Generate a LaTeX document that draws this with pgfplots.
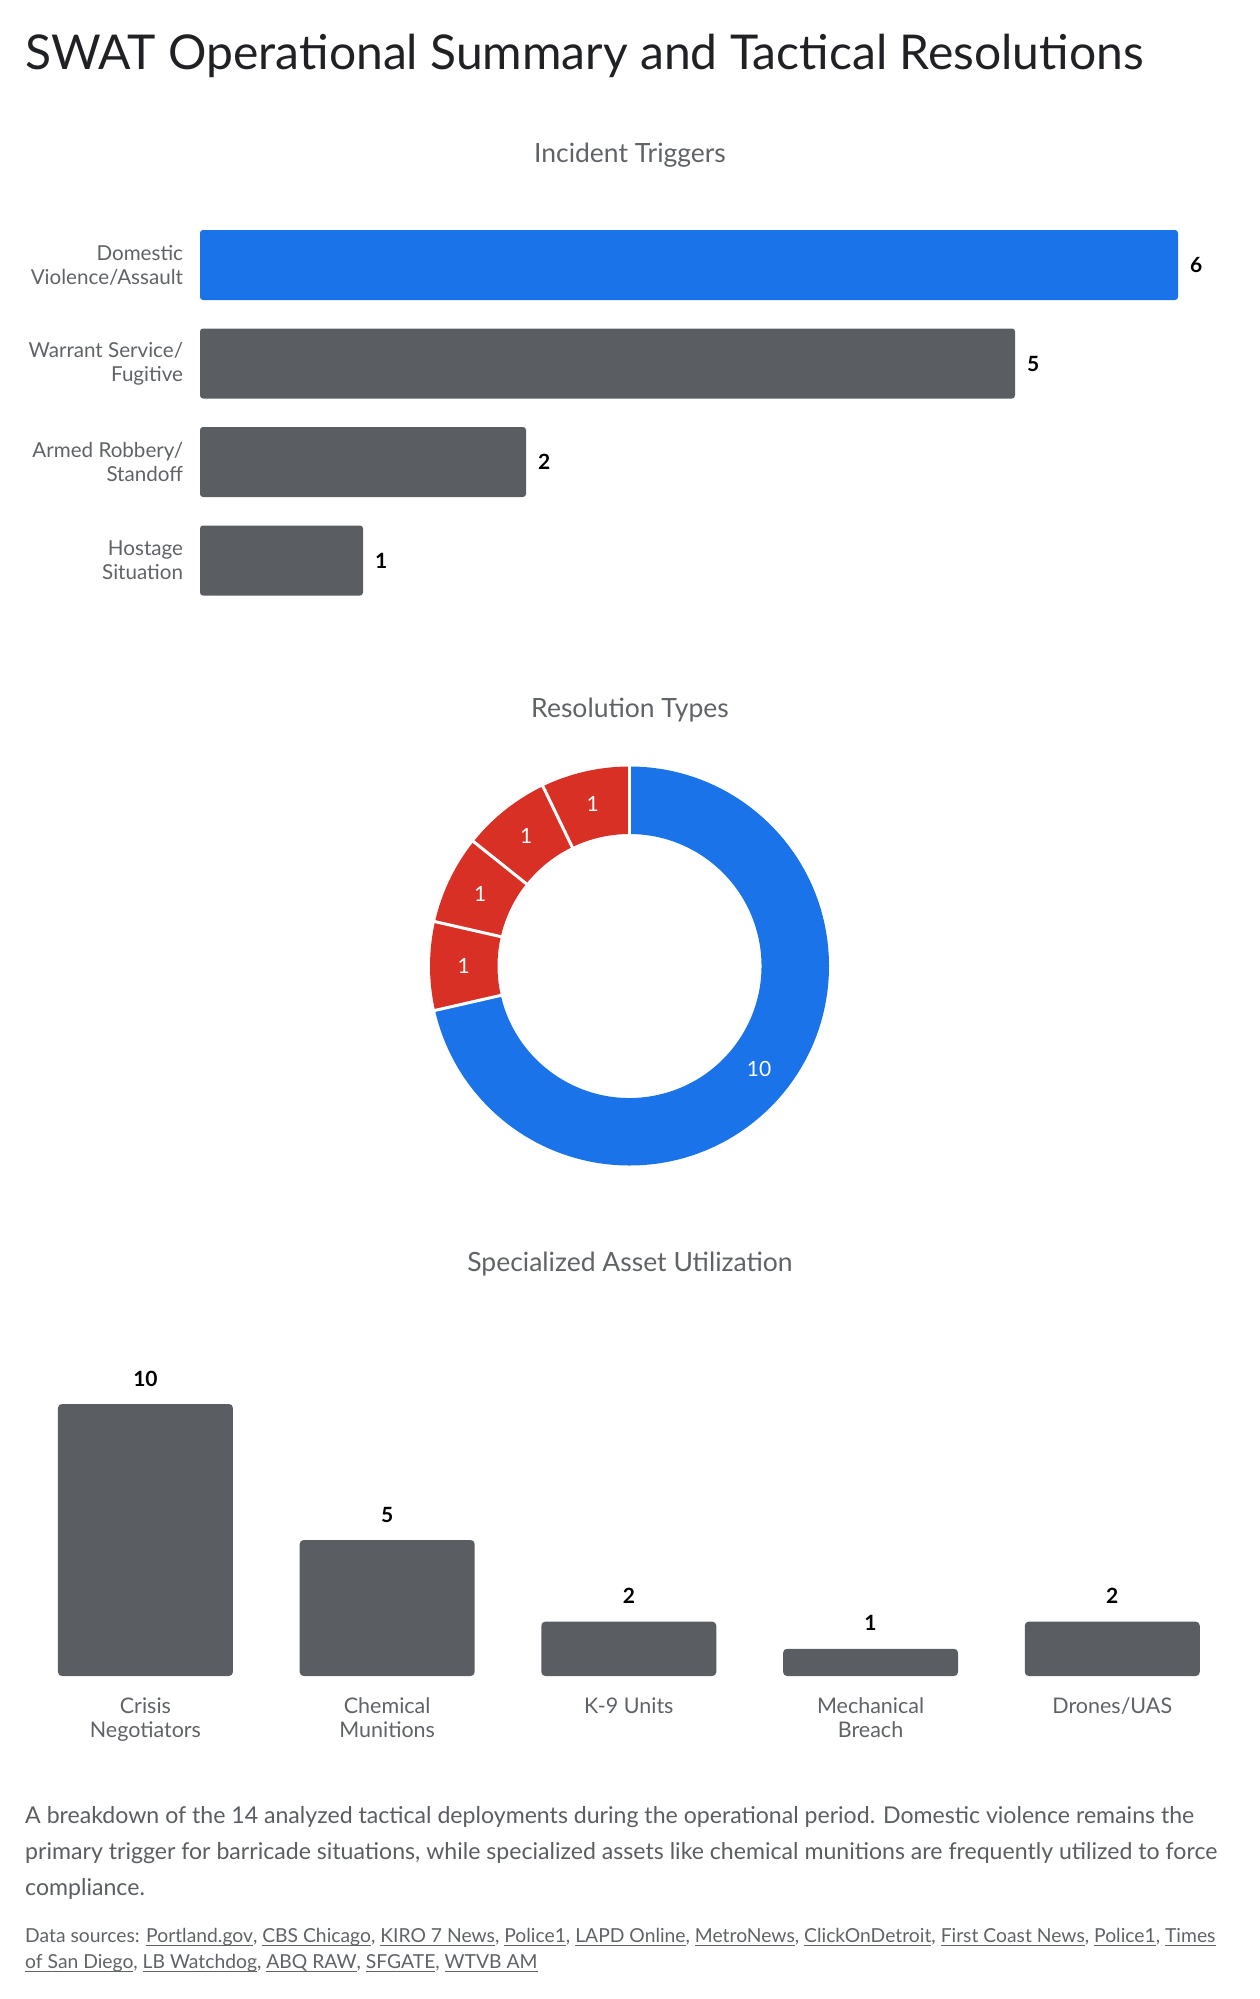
\documentclass[border=0pt]{standalone}
\usepackage{fontspec}
\setmainfont{Lato}
\usepackage{pgfplots}
\usepackage{pgfplotstable}
\pgfplotsset{compat=1.18}

\definecolor{gblue}{HTML}{1A73E8}
\definecolor{gred}{HTML}{D93025}
\definecolor{bargray}{HTML}{5A5E63}
\definecolor{labgray}{HTML}{5F6368}
\definecolor{titleink}{HTML}{202124}
\definecolor{bodyink}{HTML}{5A5E63}

\newcommand\labfont{\fontsize{20.6}{24}\selectfont}
\newcommand\collabfont{\fontsize{21.5}{24}\selectfont}
\newcommand\valfont{\fontsize{21}{24}\selectfont\bfseries}
\newcommand\subfont{\fontsize{26.5}{30}\selectfont}
\newcommand\src[1]{\setbox0\hbox{#1}\rlap{\color{labgray}\rule[-3.5pt]{\wd0}{0.9pt}}\box0}

% Incident triggers (row 0 is highlighted)
\pgfplotstableread{
y v
0 6
1 5
2 2
3 1
}\triggers

% Resolution types (first slice highlighted)
\pgfplotstableread{
idx v
0 10
1 1
2 1
3 1
4 1
}\resolutions

% Specialized asset utilization
\pgfplotstableread{
x v
0 10
1 5
2 2
3 1
4 2
}\assets

\begin{document}
\begin{tikzpicture}
\path[use as bounding box] (0pt,0pt) rectangle (1260pt,-1999pt);

\node[anchor=base west, inner sep=0pt, font=\fontsize{48}{54}\selectfont, text=titleink]
  at (25pt,-70pt) {SWAT Operational Summary and Tactical Resolutions};

% ---------- Incident Triggers ----------
\node[anchor=base, inner sep=0pt, font=\subfont, text=labgray] at (630pt,-162pt) {Incident Triggers};
\begin{axis}[
  at={(200pt,-215.75pt)}, anchor=north west,
  scale only axis, width=978pt, height=394pt,
  xbar, bar width=70pt,
  every axis plot/.append style={bar shift=0pt},
  xmin=0, xmax=6, ymin=-0.5, ymax=3.5, y dir=reverse,
  axis line style={draw=none}, tick style={draw=none},
  xtick=\empty, ytick={0,1,2,3},
  yticklabels={Domestic\\Violence/Assault, Warrant Service/\\Fugitive, Armed Robbery/\\Standoff, Hostage\\Situation},
  yticklabel style={align=right, font=\labfont, text=labgray, inner sep=0pt, xshift=-12.5pt},
  /pgf/number format/assume math mode=true,
  nodes near coords,
  nodes near coords style={font=\valfont, text=black, inner sep=0pt, xshift=12pt},
  clip=false,
]
\addplot[fill=gblue, draw=none, rounded corners=3pt, restrict y to domain=0:0] table[x=v,y=y]{\triggers};
\addplot[fill=bargray, draw=none, rounded corners=3pt, restrict y to domain=1:3] table[x=v,y=y]{\triggers};
\end{axis}

% ---------- Resolution Types ----------
\node[anchor=base, inner sep=0pt, font=\subfont, text=labgray] at (630pt,-717pt) {Resolution Types};
\begin{axis}[
  at={(629.5pt,-966pt)}, anchor=center,
  scale only axis, width=399pt, height=399pt,
  xmin=-1, xmax=1, ymin=-1, ymax=1,
  hide axis, clip=false,
]
\pgfplotsextra{
  \pgfplotstablegetrowsof{\resolutions}
  \pgfmathtruncatemacro\lastrow{\pgfplotsretval-1}
  \gdef\restotal{0}
  \foreach \i in {0,...,\lastrow}{
    \pgfplotstablegetelem{\i}{v}\of{\resolutions}
    \pgfmathsetmacro\tmp{\restotal+\pgfplotsretval}
    \global\let\restotal\tmp
  }
  % ring segments, clockwise from twelve o'clock
  \gdef\rescum{0}
  \foreach \i in {0,...,\lastrow}{
    \pgfplotstablegetelem{\i}{v}\of{\resolutions}
    \pgfmathtruncatemacro\val{\pgfplotsretval}
    \pgfmathsetmacro\sa{90-\rescum/\restotal*360}
    \pgfmathsetmacro\ea{90-(\rescum+\val)/\restotal*360}
    \pgfmathsetmacro\ma{(\sa+\ea)/2}
    \ifnum\i=0 \def\slicecol{gblue}\else\def\slicecol{gred}\fi
    \fill[\slicecol] (axis cs:{cos(\sa)},{sin(\sa)}) arc[start angle=\sa, end angle=\ea, radius=199.5pt]
      -- (axis cs:{0.6617*cos(\ea)},{0.6617*sin(\ea)}) arc[start angle=\ea, end angle=\sa, radius=132pt] -- cycle;
    \node[text=white, font=\fontsize{21}{24}\selectfont, inner sep=0pt]
      at (axis cs:{0.8308*cos(\ma)},{0.8308*sin(\ma)}) {\val};
    \pgfmathsetmacro\tmp{\rescum+\val}
    \global\let\rescum\tmp
  }
  % white gaps between segments
  \gdef\rescum{0}
  \foreach \i in {0,...,\lastrow}{
    \pgfmathsetmacro\sa{90-\rescum/\restotal*360}
    \draw[white, line width=3pt] (axis cs:{0.64*cos(\sa)},{0.64*sin(\sa)}) -- (axis cs:{1.02*cos(\sa)},{1.02*sin(\sa)});
    \pgfplotstablegetelem{\i}{v}\of{\resolutions}
    \pgfmathsetmacro\tmp{\rescum+\pgfplotsretval}
    \global\let\rescum\tmp
  }
}
\end{axis}

% ---------- Specialized Asset Utilization ----------
\node[anchor=base, inner sep=0pt, font=\subfont, text=labgray] at (630pt,-1271pt) {Specialized Asset Utilization};
\begin{axis}[
  at={(24.6pt,-1676pt)}, anchor=south west,
  scale only axis, width=1208.5pt, height=272pt,
  ybar, bar width=175pt,
  every axis plot/.append style={bar shift=0pt},
  xmin=-0.5, xmax=4.5, ymin=0, ymax=10,
  axis line style={draw=none}, tick style={draw=none},
  ytick=\empty, xtick={0,1,2,3,4},
  xticklabels={Crisis\\Negotiators, Chemical\\Munitions, K-9 Units, Mechanical\\Breach, Drones/UAS},
  xticklabel style={align=center, font=\collabfont, text=labgray, inner sep=0pt, anchor=north, yshift=-17pt},
  /pgf/number format/assume math mode=true,
  nodes near coords,
  nodes near coords style={font=\valfont, text=black, inner sep=0pt, anchor=base, yshift=18pt},
  clip=false,
]
\addplot[fill=bargray, draw=none, rounded corners=4pt] table[x=x,y=v]{\assets};
\end{axis}

% ---------- Notes ----------
\begin{scope}[every node/.style={anchor=base west, inner sep=0pt, font=\fontsize{23.1}{27}\selectfont, text=bodyink}]
\node at (25pt,-1823pt) {A breakdown of the 14 analyzed tactical deployments during the operational period. Domestic violence remains the};
\node at (25pt,-1859pt) {primary trigger for barricade situations, while specialized assets like chemical munitions are frequently utilized to force};
\node at (25pt,-1895pt) {compliance.};
\end{scope}
\begin{scope}[every node/.style={anchor=base west, inner sep=0pt, font=\fontsize{19.3}{22}\selectfont, text=labgray}]
\node at (25pt,-1942pt) {Data sources: \src{Portland.gov}, \src{CBS Chicago}, \src{KIRO 7 News}, \src{Police1}, \src{LAPD Online}, \src{MetroNews}, \src{ClickOnDetroit}, \src{First Coast News}, \src{Police1}, \src{Times}};
\node at (25pt,-1968pt) {\src{of San Diego}, \src{LB Watchdog}, \src{ABQ RAW}, \src{SFGATE}, \src{WTVB AM}};
\end{scope}
\end{tikzpicture}
\end{document}
